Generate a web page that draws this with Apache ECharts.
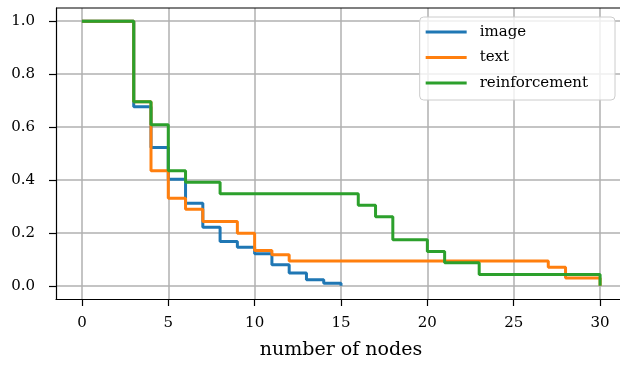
<!DOCTYPE html>
<html>
<head>
<meta charset="utf-8">
<script src="https://cdn.jsdelivr.net/npm/echarts@6/dist/echarts.min.js"></script>
<style>
  html, body { margin: 0; padding: 0; background: #fff; }
  #chart { width: 620px; height: 367px; }
</style>
</head>
<body>
<div id="chart"></div>
<script>
const xTicks = [0, 5, 10, 15, 20, 25, 30]
const yTicks = [0, 0.2, 0.4, 0.6, 0.8, 1.0]
const seriesNames = ['image', 'text', 'reinforcement']
const colors = ['#1f77b4', '#ff7f0e', '#2ca02c']

// [nodes, fraction] step points
const imageData = [[0, 1], [3, 0.677], [4, 0.523], [5, 0.403], [6, 0.312], [7, 0.221], [8, 0.167],
  [9, 0.146], [10, 0.121], [11, 0.079], [12, 0.048], [13, 0.023], [14, 0.010], [15, 0.0]]
const textData = [[0, 1], [3, 0.696], [4, 0.435], [5, 0.331], [6, 0.289], [7, 0.243], [9, 0.199],
  [10, 0.133], [11, 0.117], [12, 0.094], [27, 0.070], [28, 0.029], [30, 0.0]]
const reinforcementData = [[0, 1], [3, 0.696], [4, 0.609], [5, 0.435], [6, 0.391], [8, 0.348],
  [16, 0.304], [17, 0.261], [18, 0.174], [20, 0.130], [21, 0.087], [23, 0.043], [30, 0.0]]

const font = 'DejaVu Serif'
let myChart = echarts.init(document.getElementById('chart'))
myChart.setOption({
  animation: false,
  textStyle: { fontFamily: font },
  grid: { left: 56, width: 570, top: 8, height: 291, containLabel: false, outerBoundsMode: 'none' },
  legend: {
    right: 5, top: 17, orient: 'vertical',
    itemWidth: 41, itemHeight: 3, itemGap: 7.5,
    padding: [6, 27, 8, 6],
    backgroundColor: 'rgba(255,255,255,0.8)',
    borderColor: '#cccccc', borderWidth: 1, borderRadius: 4,
    icon: 'rect',
    textStyle: { fontFamily: font, fontSize: 15, lineHeight: 18, color: '#000', padding: [0, 0, 0, 8] },
    data: seriesNames
  },
  xAxis: {
    type: 'value', min: -1.5, max: 31.5,
    name: 'number of nodes', nameLocation: 'middle', nameGap: 42,
    nameTextStyle: { fontFamily: font, fontSize: 19, color: '#000' },
    axisLine: { onZero: false, lineStyle: { color: '#000', width: 1.2 } },
    axisTick: { show: true, length: 7, customValues: xTicks, lineStyle: { color: '#000', width: 1.2 } },
    axisLabel: { customValues: xTicks, fontFamily: font, fontSize: 15, color: '#000', margin: 17 },
    splitLine: { show: true, lineStyle: { color: '#b0b0b0', width: 1.5 } }
  },
  yAxis: [{
    type: 'value', min: -0.05, max: 1.05,
    axisLine: { show: true, onZero: false, lineStyle: { color: '#000', width: 1.2 } },
    axisTick: { show: true, length: 7, customValues: yTicks, lineStyle: { color: '#000', width: 1.2 } },
    axisLabel: { customValues: yTicks, fontFamily: font, fontSize: 15, color: '#000', margin: 21,
      formatter: v => v.toFixed(1) },
    splitLine: { show: true, lineStyle: { color: '#b0b0b0', width: 1.5 } }
  }],
  graphic: [{
    type: 'line', shape: { x1: 56, y1: 8, x2: 620, y2: 8 },
    style: { stroke: '#000', lineWidth: 1.2 }, z: 10
  }],
  series: [imageData, textData, reinforcementData].map((d, i) => ({
    name: seriesNames[i], type: 'line', step: 'end', data: d,
    showSymbol: false, symbol: 'none',
    lineStyle: { color: colors[i], width: 3 },
    itemStyle: { color: colors[i] }
  }))
})
</script>
</body>
</html>
